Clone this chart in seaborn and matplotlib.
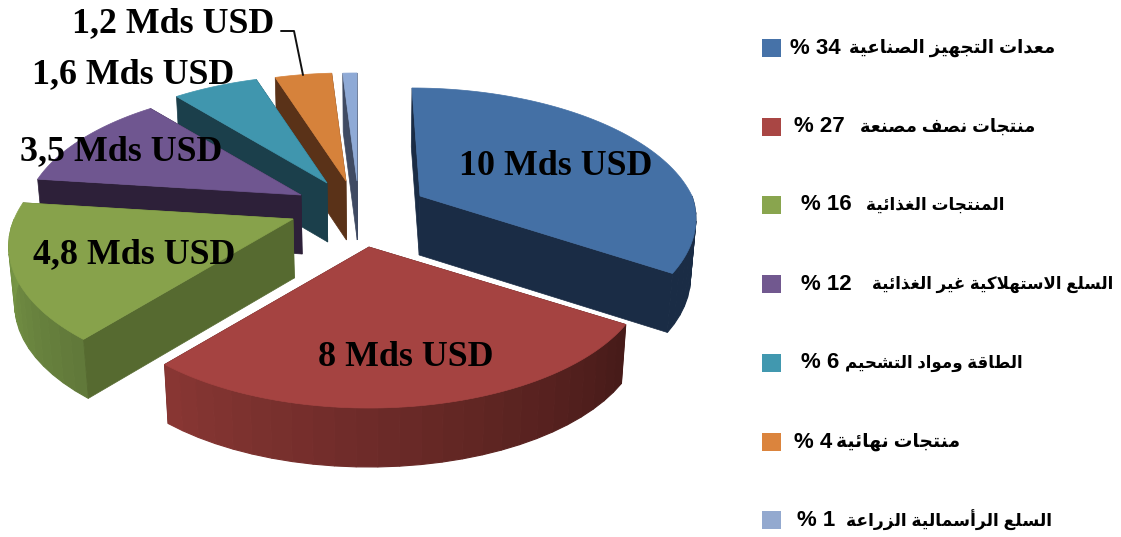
import unicodedata

import matplotlib
matplotlib.use("Agg")
import matplotlib.pyplot as plt
import numpy as np
import pandas as pd
import seaborn as sns

# Share of imports by product group
shares = [34, 27, 16, 12, 6, 4, 1]
categories = [
    "معدات التجهيز الصناعية",
    "منتجات نصف مصنعة",
    "المنتجات الغذائية",
    "السلع الاستهلاكية غير الغذائية",
    "الطاقة ومواد التشحيم",
    "منتجات نهائية",
    "السلع الرأسمالية الزراعة",
]
amounts = ["10 Mds USD", "8 Mds USD", "4,8 Mds USD", "3,5 Mds USD",
           "1,6 Mds USD", "1,2 Mds USD"]

# Colours of each wedge: top face, radial wall, outer wall (two ends of the arc)
top_colors = ["#4470a5", "#a54341", "#87a24b", "#6f5690", "#4096ae", "#d6823b", "#8faad6"]
wall_colors = ["#1a2c45", "#4a1c1a", "#566a30", "#2d2039", "#1b3f4b", "#5a3218", "#3f4a62"]
arc_colors = [("#1a2c45", "#1a2c45"), ("#471b19", "#8a3734"), ("#61793a", "#7a9a47"),
              ("#2d2039", "#2d2039"), ("#1b3f4b", "#1b3f4b"), ("#5a3218", "#5a3218"),
              ("#3f4a62", "#3f4a62")]
swatch_colors = ["#4672a8", "#a94644", "#89a54e", "#71588f", "#4198af", "#db843d", "#93a9cf"]

# Exploded wedge tips in canvas pixels, and the pie's projection settings
tips = [(420, 196), (369, 247), (293, 219), (301, 195), (327, 183), (346, 181), (357, 181)]
wedge_scale = [1, 1, 1.025, 1, 1, 1, 1]
wedge_skew = [8, 0, 0, 0, 0, 0, 0]
RADIUS_X, RADIUS_Y, PERSPECTIVE = 272, 129.3, 0.197
DEPTH, FOOT_SCALE, AXIS_X = 59, 0.983, 370

sns.set_theme(style="white")
plt.rcParams["font.family"] = ["Liberation Sans", "DejaVu Sans"]


def shape_arabic(text):
    """Contextual forms and right-to-left glyph order, which matplotlib does not do itself."""
    forms, ligatures = {}, {}
    for code in range(0xFE70, 0xFEFD):
        ch = chr(code)
        try:
            name = unicodedata.name(ch)
        except ValueError:
            continue
        base = unicodedata.normalize("NFKC", ch)
        for form in ("ISOLATED", "FINAL", "INITIAL", "MEDIAL"):
            if name.endswith(form + " FORM"):
                if "LIGATURE LAM WITH ALEF" in name:
                    ligatures.setdefault(base, {})[form] = ch
                elif len(base) == 1:
                    forms.setdefault(base, {})[form] = ch
    right_only = set("اأإآدذرزوؤةى")

    def dual(c):
        return c in forms and c not in right_only and "INITIAL" in forms[c]

    out, i = [], 0
    while i < len(text):
        c = text[i]
        if c not in forms:
            out.append(c)
            i += 1
            continue
        joined = i > 0 and dual(text[i - 1])
        pair = text[i:i + 2]
        if pair in ligatures:
            out.append(ligatures[pair]["FINAL" if joined else "ISOLATED"])
            i += 2
            continue
        onward = dual(c) and i + 1 < len(text) and text[i + 1] in forms
        form = {(False, False): "ISOLATED", (True, False): "FINAL",
                (False, True): "INITIAL", (True, True): "MEDIAL"}[(joined, onward)]
        out.append(forms[c][form])
        i += 1
    return "".join(reversed(out))


def project(i, theta):
    """Canvas position of a rim point of wedge i at clockwise angle theta (degrees from the top)."""
    t = np.radians(theta)
    s = wedge_scale[i] / (1 + PERSPECTIVE * np.cos(t))
    x = tips[i][0] + RADIUS_X * np.sin(t) * s - wedge_skew[i] * np.abs(np.cos(t))
    return x, tips[i][1] - RADIUS_Y * np.cos(t) * s


def foot(x, y):
    return AXIS_X + (x - AXIS_X) * FOOT_SCALE, y + DEPTH


def radial_wall(i, theta):
    x, y = project(i, theta)
    fx, fy = foot(x, y)
    tfx, tfy = foot(*tips[i])
    ax.fill([tips[i][0], x, fx, tfx], [tips[i][1], y, fy, tfy],
            color=wall_colors[i], lw=0.5, zorder=2)


def faces_viewer(i, theta, mid):
    """A radial wall shows when the wedge's top lies above its upper edge."""
    ex, ey = np.subtract(project(i, theta), tips[i])
    mx, my = np.subtract(project(i, mid), tips[i])
    return np.sign(ex) * (ex * my - ey * mx) < 0


fig = plt.figure(figsize=(11.21, 5.37), dpi=100, facecolor="white")
ax = fig.add_axes([0, 0, 1, 1])

edges = np.concatenate([[0], np.cumsum(shares)]) * 3.6

# Painted from the back of the pie to the front
for i in [6, 5, 4, 3, 2, 0, 1]:
    start, end = edges[i], edges[i + 1]
    mid = (start + end) / 2
    front = [a for a in (start, end) if faces_viewer(i, a, mid)]
    for a in (start, end):
        if a not in front:
            radial_wall(i, a)

    # Outer wall, only along the near half of the rim
    low, high = max(start, 90), min(end, 270)
    if low < high:
        thetas = np.linspace(low, high, max(3, int((high - low) / 3.6) + 1))
        xs, ys = project(i, thetas)
        fx, fy = foot(xs, ys)
        strip_colors = sns.blend_palette(arc_colors[i], len(thetas))
        for j in range(len(thetas) - 1):
            ax.fill([xs[j], xs[j + 1], fx[j + 1], fx[j]], [ys[j], ys[j + 1], fy[j + 1], fy[j]],
                    color=strip_colors[j], lw=0.8, zorder=2)

    for a in front:
        radial_wall(i, a)

    rim_x, rim_y = project(i, np.linspace(start, end, 80))
    ax.fill(np.r_[tips[i][0], rim_x], np.r_[tips[i][1], rim_y],
            color=top_colors[i], lw=0.5, zorder=2)

# Amount labels
label_spots = [(459, 175), (318, 366), (33, 263), (20, 160), (32, 83), (72, 32)]
for text, (x, y) in zip(amounts, label_spots):
    ax.text(x, y, text, family="Liberation Serif", weight="bold", fontsize=25.8,
            color="black", ha="left", va="baseline", zorder=5)
ax.plot([281, 294, 303], [31, 31, 75], color="#111111", lw=1.4, zorder=5)

# Legend column
legend_y = [48, 127, 205, 284, 363, 442, 520]
legend = pd.DataFrame({"x": 771.5, "y": legend_y, "category": categories})
sns.scatterplot(data=legend, x="x", y="y", hue="category", palette=swatch_colors,
                marker="s", s=187, linewidth=0, legend=False, ax=ax, zorder=4)
ax.set_xlim(0, 1121)
ax.set_ylim(537, 0)
ax.axis("off")

share_left = [790, 794, 801, 801, 801, 794, 797]
name_right = [1055, 1035, 1004, 1113, 1023, 960, 1052]
name_size = [13, 12.8, 12.2, 12, 12, 13.4, 12.3]
for share, name, left, right, size, y in zip(shares, categories, share_left,
                                             name_right, name_size, legend_y):
    ax.text(left, y, f"% {share}", weight="bold", fontsize=16,
            color="black", ha="left", va="center", zorder=5)
    ax.text(right, y, shape_arabic(name), weight="bold", fontsize=size,
            color="black", ha="right", va="center", zorder=5)

fig.savefig("out.png", dpi=100)
